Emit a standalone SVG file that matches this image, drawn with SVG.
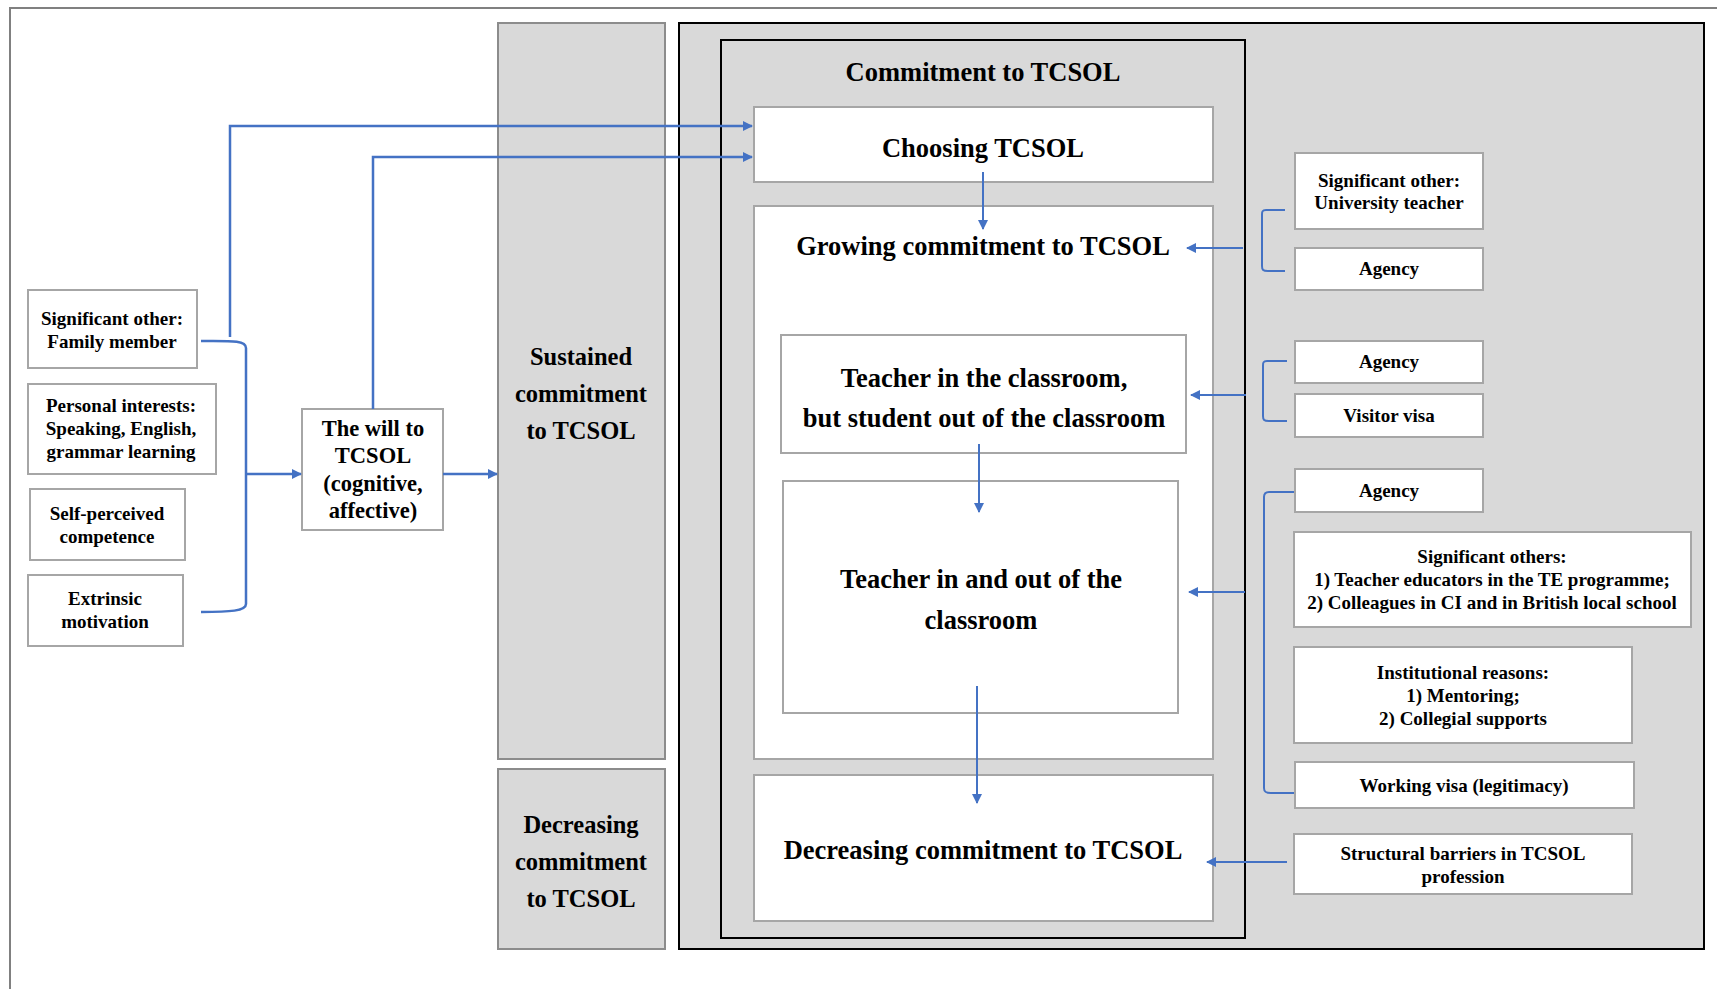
<svg xmlns="http://www.w3.org/2000/svg" width="1717" height="989" viewBox="0 0 1717 989">
  <style>
    .frame { fill: none; stroke: #808080; stroke-width: 2; }
    .col { fill: #d9d9d9; stroke: #8c8c8c; stroke-width: 2; }
    .panel { fill: #d9d9d9; stroke: #000000; stroke-width: 2; }
    .box { fill: #ffffff; stroke: #a6a6a6; stroke-width: 2; }
    .t { font-family: "Liberation Serif", "Times New Roman", serif; font-weight: bold; fill: #000000; text-anchor: middle; }
    .s19 { font-size: 19px; }
    .s22 { font-size: 22.5px; }
    .s24 { font-size: 24.5px; }
    .s26 { font-size: 26.5px; }
    .link { fill: none; stroke: #4472c4; stroke-width: 2.5; }
    .thin { fill: none; stroke: #4472c4; stroke-width: 2; }
  </style>
  <defs>
    <marker id="arrow" viewBox="0 0 10 10" refX="9" refY="5" markerWidth="10" markerHeight="10" markerUnits="userSpaceOnUse" orient="auto">
      <path d="M0,0 L10,5 L0,10 Z" fill="#4472c4"/>
    </marker>
  </defs>

  <rect width="1717" height="989" fill="#ffffff"/>
  <!-- page frame (runs past the canvas on the right and bottom) -->
  <rect class="frame" x="10" y="8" width="1800" height="1100"/>

  <!-- phase columns -->
  <g id="sustained">
    <rect class="col" x="498" y="23" width="167" height="736"/>
    <text class="t s24" x="581" y="365">Sustained</text>
    <text class="t s24" x="581" y="402">commitment</text>
    <text class="t s24" x="581" y="439">to TCSOL</text>
  </g>
  <g id="decreasing-col">
    <rect class="col" x="498" y="769" width="167" height="180"/>
    <text class="t s24" x="581" y="833">Decreasing</text>
    <text class="t s24" x="581" y="870">commitment</text>
    <text class="t s24" x="581" y="907">to TCSOL</text>
  </g>

  <!-- right-hand panel -->
  <g id="panel">
    <rect class="panel" x="679" y="23" width="1025" height="926"/>
    <rect class="panel" x="721" y="40" width="524" height="898"/>
    <text class="t s26" x="983" y="81">Commitment to TCSOL</text>
  </g>

  <g id="choosing">
    <rect class="box" x="754" y="107" width="459" height="75"/>
    <text class="t s26" x="983" y="157">Choosing TCSOL</text>
  </g>
  <g id="growing">
    <rect class="box" x="754" y="206" width="459" height="553"/>
    <text class="t s26" x="983" y="255">Growing commitment to TCSOL</text>
  </g>
  <g id="teacher-in">
    <rect class="box" x="781" y="335" width="405" height="118"/>
    <text class="t s26" x="984" y="387">Teacher in the classroom,</text>
    <text class="t s26" x="984" y="427">but student out of the classroom</text>
  </g>
  <g id="teacher-in-out">
    <rect class="box" x="783" y="481" width="395" height="232"/>
    <text class="t s26" x="981" y="588">Teacher in and out of the</text>
    <text class="t s26" x="981" y="629">classroom</text>
  </g>
  <g id="decreasing">
    <rect class="box" x="754" y="775" width="459" height="146"/>
    <text class="t s26" x="983" y="859">Decreasing commitment to TCSOL</text>
  </g>

  <!-- influences, right -->
  <g id="uni-teacher">
    <rect class="box" x="1295" y="153" width="188" height="76"/>
    <text class="t s19" x="1389" y="187">Significant other:</text>
    <text class="t s19" x="1389" y="209">University teacher</text>
  </g>
  <g id="agency-1">
    <rect class="box" x="1295" y="248" width="188" height="42"/>
    <text class="t s19" x="1389" y="275">Agency</text>
  </g>
  <g id="agency-2">
    <rect class="box" x="1295" y="341" width="188" height="42"/>
    <text class="t s19" x="1389" y="368">Agency</text>
  </g>
  <g id="visitor-visa">
    <rect class="box" x="1295" y="394" width="188" height="43"/>
    <text class="t s19" x="1389" y="422">Visitor visa</text>
  </g>
  <g id="agency-3">
    <rect class="box" x="1295" y="469" width="188" height="43"/>
    <text class="t s19" x="1389" y="497">Agency</text>
  </g>
  <g id="sig-others">
    <rect class="box" x="1294" y="532" width="397" height="95"/>
    <text class="t s19" x="1492" y="563">Significant others:</text>
    <text class="t s19" x="1492" y="586">1) Teacher educators in the TE programme;</text>
    <text class="t s19" x="1492" y="609">2) Colleagues in CI and in British local school</text>
  </g>
  <g id="institutional">
    <rect class="box" x="1294" y="647" width="338" height="96"/>
    <text class="t s19" x="1463" y="679">Institutional reasons:</text>
    <text class="t s19" x="1463" y="702">1) Mentoring;</text>
    <text class="t s19" x="1463" y="725">2) Collegial supports</text>
  </g>
  <g id="working-visa">
    <rect class="box" x="1295" y="762" width="339" height="46"/>
    <text class="t s19" x="1464" y="792">Working visa (legitimacy)</text>
  </g>
  <g id="structural">
    <rect class="box" x="1294" y="834" width="338" height="60"/>
    <text class="t s19" x="1463" y="860">Structural barriers in TCSOL</text>
    <text class="t s19" x="1463" y="883">profession</text>
  </g>

  <!-- influences, left -->
  <g id="family">
    <rect class="box" x="28" y="290" width="169" height="78"/>
    <text class="t s19" x="112" y="325">Significant other:</text>
    <text class="t s19" x="112" y="348">Family member</text>
  </g>
  <g id="interests">
    <rect class="box" x="28" y="384" width="188" height="90"/>
    <text class="t s19" x="121" y="412">Personal interests:</text>
    <text class="t s19" x="121" y="435">Speaking, English,</text>
    <text class="t s19" x="121" y="458">grammar learning</text>
  </g>
  <g id="competence">
    <rect class="box" x="30" y="489" width="155" height="71"/>
    <text class="t s19" x="107" y="520">Self-perceived</text>
    <text class="t s19" x="107" y="543">competence</text>
  </g>
  <g id="extrinsic">
    <rect class="box" x="28" y="575" width="155" height="71"/>
    <text class="t s19" x="105" y="605">Extrinsic</text>
    <text class="t s19" x="105" y="628">motivation</text>
  </g>
  <g id="will">
    <rect class="box" x="302" y="409" width="141" height="121"/>
    <text class="t s22" x="373" y="436">The will to</text>
    <text class="t s22" x="373" y="463">TCSOL</text>
    <text class="t s22" x="373" y="491">(cognitive,</text>
    <text class="t s22" x="373" y="518">affective)</text>
  </g>

  <!-- connectors -->
  <g id="connectors">
    <!-- left bracket gathering the four influences -->
    <path class="link" d="M201,341 C230,341 246,340 246,348 L246,604 C246,611 230,612 201,612"/>
    <path class="link" d="M246,474 L301,474" marker-end="url(#arrow)"/>
    <path class="link" d="M443,474 L497,474" marker-end="url(#arrow)"/>
    <!-- routes into Choosing TCSOL -->
    <path class="link" d="M230,337 L230,126 L752,126" marker-end="url(#arrow)"/>
    <path class="link" d="M373,409 L373,157 L752,157" marker-end="url(#arrow)"/>

    <!-- flow down the commitment stages -->
    <path class="thin" d="M983,172 L983,229" marker-end="url(#arrow)"/>
    <path class="thin" d="M979,444 L979,512" marker-end="url(#arrow)"/>
    <path class="thin" d="M977,686 L977,803" marker-end="url(#arrow)"/>

    <!-- right brackets -->
    <path class="thin" d="M1285,210 L1266,210 C1262,210 1262,212 1262,215 L1262,266 C1262,270 1263,271 1268,271 L1285,271"/>
    <path class="thin" d="M1287,361 L1267,361 C1263,361 1263,363 1263,366 L1263,416 C1263,420 1264,421 1269,421 L1287,421"/>
    <path class="thin" d="M1294,492 L1269,492 C1265,492 1264,494 1264,497 L1264,788 C1264,792 1266,793 1271,793 L1294,793"/>

    <!-- arrows into the stages -->
    <path class="thin" d="M1243,248 L1187,248" marker-end="url(#arrow)"/>
    <path class="thin" d="M1246,395 L1191,395" marker-end="url(#arrow)"/>
    <path class="thin" d="M1245,592 L1189,592" marker-end="url(#arrow)"/>
    <path class="thin" d="M1287,862 L1207,862" marker-end="url(#arrow)"/>
  </g>
</svg>
